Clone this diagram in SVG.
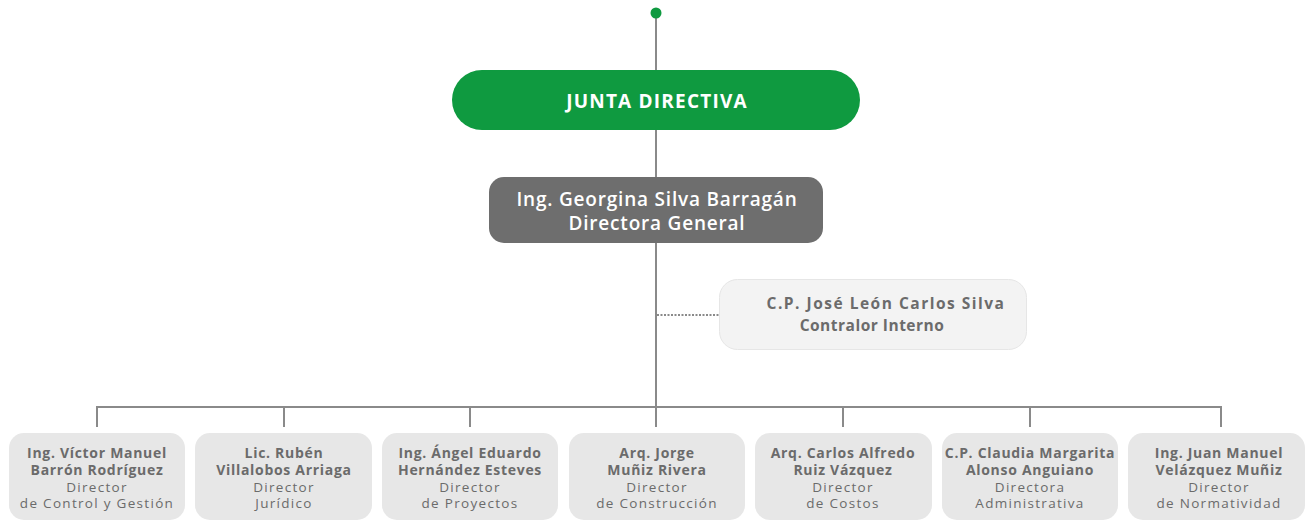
<svg xmlns="http://www.w3.org/2000/svg" width="1307" height="521" viewBox="0 0 1307 521">
<style>
.ln{stroke:#8a8a8a;stroke-width:2;fill:none}
.bx{fill:#e7e7e7}
.nm{font-family:"Open Sans",sans-serif;font-weight:bold;font-size:14px;letter-spacing:0.7px;fill:#6b6b6b;text-anchor:middle}
.rl{font-family:"Open Sans",sans-serif;font-size:13.5px;letter-spacing:1.3px;fill:#6b6b6b;text-anchor:middle}
</style>
<rect width="1307" height="521" fill="#ffffff"/>
<g id="connectors">
<line class="ln" x1="656" y1="13" x2="656" y2="407"/>
<line x1="657" y1="315" x2="719" y2="315" stroke="#8a8a8a" stroke-width="2" stroke-dasharray="2,1.5"/>
<polyline class="ln" points="97,427 97,407 1221,407 1221,427"/>
<line class="ln" x1="284" y1="407" x2="284" y2="427"/>
<line class="ln" x1="470" y1="407" x2="470" y2="427"/>
<line class="ln" x1="656" y1="407" x2="656" y2="427"/>
<line class="ln" x1="843" y1="407" x2="843" y2="427"/>
<line class="ln" x1="1030" y1="407" x2="1030" y2="427"/>
<circle cx="656" cy="13" r="5.5" fill="#0f9a40"/>
</g>
<g id="junta">
<rect x="452" y="70" width="408" height="60" rx="30" fill="#0f9a40"/>
<text x="657" y="108" font-family="'Open Sans',sans-serif" font-weight="bold" font-size="19" letter-spacing="1.2" fill="#ffffff" text-anchor="middle">JUNTA DIRECTIVA</text>
</g>
<g id="directora">
<rect x="489" y="177" width="334" height="66" rx="15" fill="#6e6e6e"/>
<text x="657" y="206" font-family="'Open Sans',sans-serif" font-weight="600" font-size="19" letter-spacing="0.8" fill="#ffffff" text-anchor="middle">Ing. Georgina Silva Barragán</text>
<text x="657" y="230" font-family="'Open Sans',sans-serif" font-weight="600" font-size="19" letter-spacing="0.8" fill="#ffffff" text-anchor="middle">Directora General</text>
</g>
<g id="contralor">
<rect x="719.5" y="279.5" width="307" height="70" rx="18" fill="#f3f3f3" stroke="#e6e6e6"/>
<text x="886" y="309" font-family="'Open Sans',sans-serif" font-weight="bold" font-size="15.5" letter-spacing="1.5" fill="#6b6b6b" text-anchor="middle">C.P. José León Carlos Silva</text>
<text x="872" y="331" font-family="'Open Sans',sans-serif" font-weight="bold" font-size="15.5" letter-spacing="0.5" fill="#6b6b6b" text-anchor="middle">Contralor Interno</text>
</g>
<g id="n1"><rect class="bx" x="9" y="433" width="176" height="87" rx="15"/>
<text class="nm" x="97" y="458">Ing. Víctor Manuel</text><text class="nm" x="97" y="475">Barrón Rodríguez</text>
<text class="rl" x="97" y="492">Director</text><text class="rl" x="97" y="508">de Control y Gestión</text></g>
<g id="n2"><rect class="bx" x="195" y="433" width="177" height="87" rx="15"/>
<text class="nm" x="284" y="458">Lic. Rubén</text><text class="nm" x="284" y="475">Villalobos Arriaga</text>
<text class="rl" x="284" y="492">Director</text><text class="rl" x="284" y="508">Jurídico</text></g>
<g id="n3"><rect class="bx" x="382" y="433" width="176" height="87" rx="15"/>
<text class="nm" x="470" y="458">Ing. Ángel Eduardo</text><text class="nm" x="470" y="475">Hernández Esteves</text>
<text class="rl" x="470" y="492">Director</text><text class="rl" x="470" y="508">de Proyectos</text></g>
<g id="n4"><rect class="bx" x="569" y="433" width="176" height="87" rx="15"/>
<text class="nm" x="657" y="458">Arq. Jorge</text><text class="nm" x="657" y="475">Muñiz Rivera</text>
<text class="rl" x="657" y="492">Director</text><text class="rl" x="657" y="508">de Construcción</text></g>
<g id="n5"><rect class="bx" x="755" y="433" width="177" height="87" rx="15"/>
<text class="nm" x="843" y="458">Arq. Carlos Alfredo</text><text class="nm" x="843" y="475">Ruiz Vázquez</text>
<text class="rl" x="843" y="492">Director</text><text class="rl" x="843" y="508">de Costos</text></g>
<g id="n6"><rect class="bx" x="942" y="433" width="176" height="87" rx="15"/>
<text class="nm" x="1030" y="458">C.P. Claudia Margarita</text><text class="nm" x="1030" y="475">Alonso Anguiano</text>
<text class="rl" x="1030" y="492">Directora</text><text class="rl" x="1030" y="508">Administrativa</text></g>
<g id="n7"><rect class="bx" x="1128" y="433" width="177" height="87" rx="15"/>
<text class="nm" x="1219" y="458">Ing. Juan Manuel</text><text class="nm" x="1219" y="475">Velázquez Muñiz</text>
<text class="rl" x="1219" y="492">Director</text><text class="rl" x="1219" y="508">de Normatividad</text></g>
</svg>
